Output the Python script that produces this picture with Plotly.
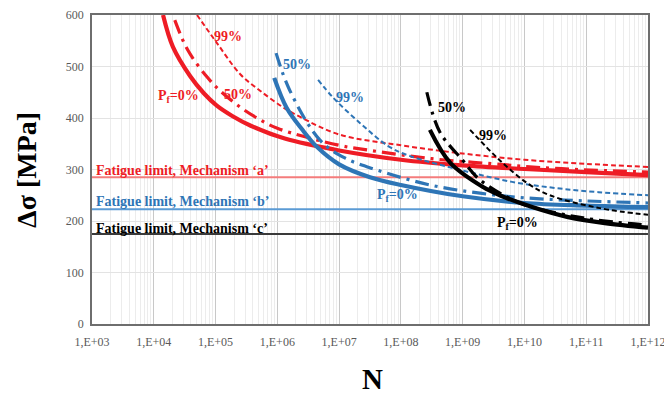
import plotly.graph_objects as go

# ---- data (log10 N, stress range MPa) ----
red_p0_logN = [4.15, 4.31, 4.59, 4.81, 5.02, 5.27, 5.57, 6.12, 7.0, 8.0, 9.0, 10.0, 11.0, 12.0]
red_p0_S    = [600, 538, 481, 448, 424, 404, 385, 360, 337, 319, 308, 301, 295, 289]
red_p50_logN = [4.34, 4.55, 4.86, 5.1, 5.4, 5.67, 6.0, 7.0, 7.45, 8.5, 9.5, 10.5, 12.0]
red_p50_S    = [590, 532, 480, 450, 421, 400, 380, 347, 338, 321, 311, 302, 295]
red_p99_logN = [4.7, 5.02, 5.4, 5.72, 6.09, 6.37, 7.0, 8.0, 9.0, 10.0, 11.0, 12.0]
red_p99_S    = [600, 546, 485, 453, 421, 402, 368, 347, 331, 319, 311, 305]

blue_p0_logN = [5.95, 6.15, 6.4, 6.64, 7.0, 7.5, 8.0, 9.0, 10.0, 11.0, 12.0]
blue_p0_S    = [478, 420, 378, 344, 310, 285, 270, 248, 235, 230, 227]
blue_p50_logN = [5.98, 6.2, 6.69, 7.1, 7.61, 8.47, 9.28, 10.0, 11.0, 12.0]
blue_p50_S    = [526, 454, 357, 322, 299, 270, 254, 245, 239, 235]
blue_p99_logN = [6.66, 6.9, 7.34, 7.8, 8.15, 9.0, 9.8, 10.5, 11.2, 12.0]
blue_p99_S    = [474, 440, 390, 345, 326, 298, 276, 264, 256, 250]

black_p0_logN = [8.47, 8.8, 9.33, 9.6, 10.1, 10.69, 11.3, 12.0]
black_p0_S    = [377, 313, 266, 250, 228, 208, 196, 187]
black_p50_logN = [8.42, 8.63, 9.0, 9.28, 9.93, 10.95, 12.0]
black_p50_S    = [450, 373, 318, 280, 235, 206, 192]
black_p99_logN = [9.12, 9.6, 10.04, 10.41, 11.22, 12.0]
black_p99_S    = [377, 318, 274, 250, 225, 212]

limit_N = [1e3, 1e12]
limit_a = [285, 285]
limit_b = [223, 223]
limit_c = [175, 175]

x_tick_exp = [3, 4, 5, 6, 7, 8, 9, 10, 11, 12]
x_tick_text = ["1,E+%02d" % e for e in x_tick_exp]
y_ticks = [0, 100, 200, 300, 400, 500, 600]

RED = "#ee1c25"
BLUE = "#2e75b6"
BLACK = "#000000"
SERIF = "Liberation Serif, Times New Roman, serif"

fig = go.Figure()

def add_limit(y, color, width):
    fig.add_trace(go.Scatter(x=limit_N, y=y, mode="lines",
                             line=dict(color=color, width=width), hoverinfo="skip"))

add_limit(limit_a, "#f47c7c", 2.2)
add_limit(limit_b, "#5b9bd5", 2.0)
add_limit(limit_c, "#3a3a3a", 2.0)

def add_curve(logN, S, color, kind):
    x = [10 ** v for v in logN]
    if kind == "solid":
        line = dict(color=color, width=4.2, shape="spline", smoothing=1.0)
    elif kind == "dashdot":
        line = dict(color=color, width=3.2, dash="14px,6px,3px,6px", shape="spline", smoothing=1.0)
    else:
        line = dict(color=color, width=2.0, dash="5px,3px", shape="spline", smoothing=1.0)
    fig.add_trace(go.Scatter(x=x, y=S, mode="lines", line=line, hoverinfo="skip"))

add_curve(red_p99_logN, red_p99_S, RED, "dash")
add_curve(red_p50_logN, red_p50_S, RED, "dashdot")
add_curve(red_p0_logN, red_p0_S, RED, "solid")
add_curve(blue_p99_logN, blue_p99_S, BLUE, "dash")
add_curve(blue_p50_logN, blue_p50_S, BLUE, "dashdot")
add_curve(blue_p0_logN, blue_p0_S, BLUE, "solid")
add_curve(black_p99_logN, black_p99_S, BLACK, "dash")
add_curve(black_p50_logN, black_p50_S, BLACK, "dashdot")
add_curve(black_p0_logN, black_p0_S, BLACK, "solid")

labels = [
    (5.2, 559, "99%", RED),
    (5.36, 445, "50%", RED),
    (4.4, 441, "P<sub>f</sub>=0%", RED),
    (6.32, 503, "50%", BLUE),
    (7.18, 439, "99%", BLUE),
    (7.94, 250, "P<sub>f</sub>=0%", BLUE),
    (8.82, 421, "50%", BLACK),
    (9.49, 367, "99%", BLACK),
    (9.88, 196, "P<sub>f</sub>=0%", BLACK),
]
for x, y, t, c in labels:
    fig.add_annotation(x=x, y=y, text="<b>" + t + "</b>", showarrow=False, xanchor="center",
                       font=dict(family=SERIF, size=14, color=c))

lim_labels = [
    (299, "Fatigue limit, Mechanism ‘a’", RED),
    (237, "Fatigue limit, Mechanism ‘b’", BLUE),
    (186, "Fatigue limit, Mechanism ‘c’", BLACK),
]
for y, t, c in lim_labels:
    fig.add_annotation(x=3.03, y=y, text="<b>" + t + "</b>", showarrow=False, xanchor="left",
                       font=dict(family=SERIF, size=14, color=c))

# axis titles as annotations for exact placement
fig.add_annotation(xref="paper", yref="paper", x=-0.118, y=0.5, text="<b>Δσ [MPa]</b>",
                   textangle=-90, showarrow=False, xanchor="center", yanchor="middle",
                   font=dict(family=SERIF, size=28, color="#000000"))
fig.add_annotation(xref="paper", yref="paper", x=0.504, y=-0.178, text="<b>N</b>",
                   showarrow=False, xanchor="center", yanchor="middle",
                   font=dict(family=SERIF, size=29, color="#000000"))

# the page body has an 8px default margin, so the figure is sized to fit inside it
fig.update_layout(
    width=664, height=389,
    margin=dict(l=84, r=24, t=7, b=73, autoexpand=False),
    paper_bgcolor="white", plot_bgcolor="white",
    showlegend=False,
    font=dict(family=SERIF, color="#595959", size=12),
)
fig.update_xaxes(
    type="log", range=[3, 12], automargin=False,
    tickvals=[10 ** e for e in x_tick_exp], ticktext=x_tick_text,
    showgrid=True, gridcolor="#c8c8c8", gridwidth=1,
    minor=dict(showgrid=True, gridcolor="#ececec", dtick="D1", gridwidth=1),
    showline=True, linecolor="#6e6e6e", linewidth=1.5, mirror=True,
    ticks="", ticklabelstandoff=6, tickfont=dict(family=SERIF, size=12, color="#595959"),
)
fig.update_yaxes(
    range=[0, 600], tickvals=y_ticks, automargin=False,
    showgrid=True, gridcolor="#e3e3e3", gridwidth=1,
    showline=True, linecolor="#6e6e6e", linewidth=1.5, mirror=True,
    zeroline=False, ticks="", ticklabelstandoff=4,
    tickfont=dict(family=SERIF, size=12, color="#595959"),
)

fig.write_html("out.html")
